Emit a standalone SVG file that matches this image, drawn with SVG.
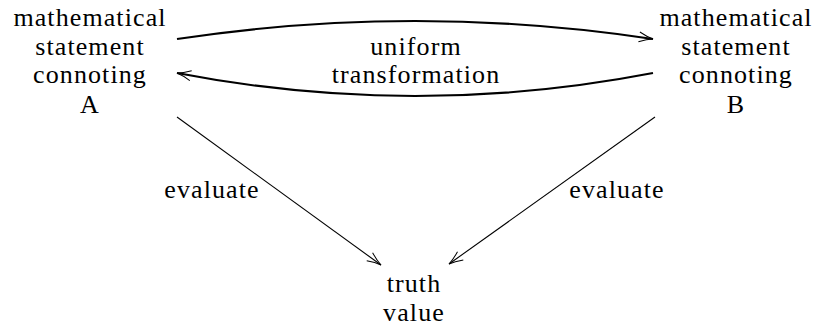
<svg xmlns="http://www.w3.org/2000/svg" width="819" height="327" viewBox="0 0 819 327">
  <style>
    text { font-family: "Liberation Serif", "DejaVu Serif", serif; font-size: 26px; letter-spacing: 1.1px; fill: #000; text-anchor: middle; }
    .thick { fill: none; stroke: #000; stroke-width: 2.2; }
    .thin { fill: none; stroke: #000; stroke-width: 1.1; }
  </style>
  <defs>
    <marker id="arr" markerUnits="userSpaceOnUse" markerWidth="20" markerHeight="14" viewBox="-16 -7 18 14" refX="0" refY="0" orient="auto" overflow="visible">
      <path d="M -14,-5 Q -6,-1.2 0,0 Q -6,1.2 -14,5" fill="none" stroke="#000" stroke-width="1"/>
    </marker>
  </defs>
  <rect width="819" height="327" fill="#fff"/>
  <g id="connectors">
    <path class="thick" d="M177,39 Q415,3 653,39" marker-end="url(#arr)"/>
    <path class="thick" d="M653,73 Q415,119 177,73" marker-end="url(#arr)"/>
    <path class="thin" d="M177,117 L381,265" marker-end="url(#arr)"/>
    <path class="thin" d="M655,117 L449,264" marker-end="url(#arr)"/>
  </g>
  <g id="nodeA">
    <text x="90" y="26">mathematical</text>
    <text x="90" y="55">statement</text>
    <text x="90" y="83">connoting</text>
    <text x="90" y="113">A</text>
  </g>
  <g id="nodeB">
    <text x="736" y="26">mathematical</text>
    <text x="736" y="55">statement</text>
    <text x="736" y="83">connoting</text>
    <text x="736" y="113">B</text>
  </g>
  <g id="label-uniform">
    <text x="416" y="55">uniform</text>
    <text x="416" y="83">transformation</text>
  </g>
  <g id="label-evalA">
    <text x="212" y="198">evaluate</text>
  </g>
  <g id="label-evalB">
    <text x="617" y="198">evaluate</text>
  </g>
  <g id="nodeTruth">
    <text x="414" y="292">truth</text>
    <text x="414" y="321">value</text>
  </g>
</svg>
